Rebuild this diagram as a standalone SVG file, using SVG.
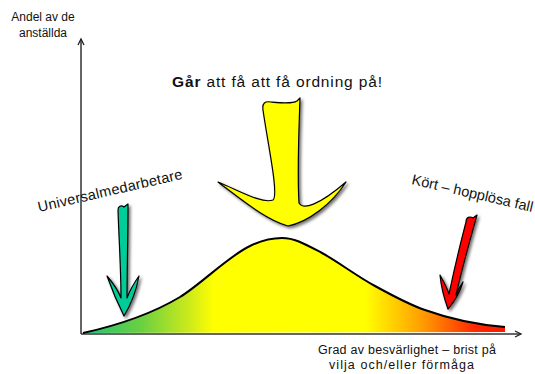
<svg xmlns="http://www.w3.org/2000/svg" width="535" height="374" viewBox="0 0 535 374">
<defs>
  <linearGradient id="grad" gradientUnits="userSpaceOnUse" x1="83" y1="0" x2="505" y2="0">
    <stop offset="0" stop-color="#1ec27a"/>
    <stop offset="0.14" stop-color="#6cd040"/>
    <stop offset="0.26" stop-color="#d4ec18"/>
    <stop offset="0.31" stop-color="#ffff00"/>
    <stop offset="0.67" stop-color="#ffff00"/>
    <stop offset="0.80" stop-color="#ffa000"/>
    <stop offset="0.93" stop-color="#ff2800"/>
    <stop offset="1" stop-color="#ff1800"/>
  </linearGradient>
  <filter id="shadow" x="-30%" y="-30%" width="160%" height="160%">
    <feDropShadow dx="2" dy="2" stdDeviation="1.8" flood-color="#000" flood-opacity="0.55"/>
  </filter>
  <marker id="arr" markerWidth="10" markerHeight="10" refX="7" refY="4" orient="auto" markerUnits="userSpaceOnUse">
    <path d="M1,1 L7,4 L1,7" fill="none" stroke="#222" stroke-width="1.3"/>
  </marker>
</defs>
<style>
  .t { font-family: "Liberation Sans", "DejaVu Sans", sans-serif; fill: #111; }
  .ax { fill: none; stroke: #333; stroke-width: 1.5; }
  .arrowshape { stroke: #000; stroke-width: 1.2; stroke-linejoin: round; filter: url(#shadow); }
</style>

<g id="connectors">
  <line class="ax" x1="81" y1="334" x2="81" y2="39" marker-end="url(#arr)"/>
  <line class="ax" x1="81" y1="334" x2="521" y2="334" marker-end="url(#arr)"/>
</g>

<g id="curve">
  <path d="M 83,333 C 110,327 150,315 180,297 C 200,285 230,255 250,246 C 262,240 272,238 282,238 C 295,238 305,244 322,253 C 340,263 355,275 375,286 C 395,297 410,305 425,310 C 450,319 480,325 505,327 L 505,332 L 83,333 Z" fill="url(#grad)" stroke="none"/>
  <path d="M 83,333 C 110,327 150,315 180,297 C 200,285 230,255 250,246 C 262,240 272,238 282,238 C 295,238 305,244 322,253 C 340,263 355,275 375,286 C 395,297 410,305 425,310 C 450,319 480,325 505,327" fill="none" stroke="#000" stroke-width="2"/>
</g>

<g id="arrow-yellow">
  <path class="arrowshape" fill="#ffff00" d="M 263,110 C 262,103 265,101 271,102 C 282,103 292,104 297,101 L 300,98 C 299,130 297,170 299,203 C 303,210 318,206 346,182 C 332,204 308,222 288,226 C 266,220 242,200 218,182 C 240,191 262,204 273,200 C 279,195 268,145 263,110 Z"/>
</g>

<g id="arrow-teal">
  <path class="arrowshape" fill="#00cc99" d="M 118,210 C 118,206 121,205 124,207 L 128,204 C 128,240 127,270 127,298 C 130,290 134,283 139,276 C 136,292 130,306 124,316 C 118,304 112,290 107,276 C 113,283 118,290 121,298 C 121,270 119,240 118,210 Z"/>
</g>

<g id="arrow-red">
  <path class="arrowshape" fill="#ff0000" d="M 466,222 C 466,217 470,216 473,218 L 477,215 C 470,240 462,268 456,295 C 458,290 460,286 463,282 C 460,292 454,302 448,309 C 444,298 441,286 440,275 C 444,282 447,288 449,294 C 454,270 460,245 466,222 Z"/>
</g>

<g id="label-y">
  <text class="t" font-size="12" text-anchor="middle"><tspan x="43" y="21">Andel av de</tspan><tspan x="43" y="37">anställda</tspan></text>
</g>
<g id="label-x">
  <text class="t" font-size="12.5" x="318" y="354" textLength="178" lengthAdjust="spacing">Grad av besvärlighet – brist på</text>
  <text class="t" font-size="12.5" x="329" y="369" textLength="145" lengthAdjust="spacing">vilja och/eller förmåga</text>
</g>
<g id="label-top">
  <text class="t" x="172" y="87" font-size="15.5" textLength="210" lengthAdjust="spacing"><tspan font-weight="bold">Går</tspan> att få att få ordning på!</text>
</g>
<g id="label-universal">
  <text class="t" font-size="14.5" transform="translate(39,212) rotate(-13)" textLength="148" lengthAdjust="spacing">Universalmedarbetare</text>
</g>
<g id="label-kort">
  <text class="t" font-size="14.5" transform="translate(411,184) rotate(13)" textLength="124" lengthAdjust="spacing">Kört – hopplösa fall</text>
</g>
</svg>
